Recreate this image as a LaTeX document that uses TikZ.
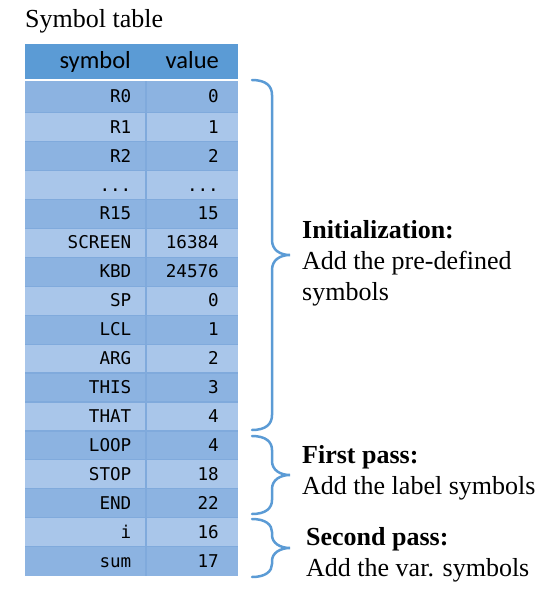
\documentclass[tikz,border=0pt]{standalone}
\usepackage{fontspec}
\setmainfont{Liberation Serif}
\newfontfamily\hdrfont{Carlito}
\newfontfamily\cellfont{DejaVu Sans Mono}
\definecolor{hdrblue}{HTML}{5B9BD5}
\definecolor{banddark}{HTML}{8CB3E1}
\definecolor{bandlight}{HTML}{A9C6EA}
\definecolor{gridblue}{HTML}{80AADC}
\definecolor{braceblue}{HTML}{5B9BD5}
\newcommand\tdots{...}
\newcommand\mybrace[4]{%
  \draw[brace] (252,#1) .. controls (266,#1) and (272,#1+6) .. (272,#1+#4)
    -- (272,#2-#4) .. controls (272,#2-5) and (280,#2) .. (290,#2)
    .. controls (280,#2) and (272,#2+5) .. (272,#2+#4)
    -- (272,#3-#4) .. controls (272,#3-6) and (266,#3) .. (252,#3);}
\tikzset{
  brace/.style={draw=braceblue, line width=2.5pt, line cap=round},
  cell/.style={inner sep=0pt, anchor=base east, font=\cellfont\fontsize{17.6}{20}\selectfont},
  hdr/.style={inner sep=0pt, anchor=base east, font=\hdrfont\fontsize{24.5}{28}\selectfont},
  lbl/.style={inner sep=0pt, anchor=base west, font=\fontsize{26}{31}\selectfont},
  gridline/.style={draw=gridblue, line width=1.2pt}
}
\begin{document}
\begin{tikzpicture}[x=1pt,y=-1pt]
\useasboundingbox (0,0) rectangle (558,598);
% title
\node[lbl] (title) at (25,27) {Symbol table};
% header
\fill[hdrblue] (25,44) rectangle (238,78.5);
\node[hdr] (hsym) at (131,68) {symbol};
\node[hdr] (hval) at (219,68) {value};
% rows
\foreach \s/\v [count=\i from 0] in {R0/0, R1/1, R2/2, \tdots/\tdots, R15/15, SCREEN/16384, KBD/24576, SP/0, LCL/1, ARG/2, THIS/3, THAT/4, LOOP/4, STOP/18, END/22, i/16, sum/17}{
  \pgfmathsetmacro\yt{\i==0 ? 81 : 112.7+(\i-1)*28.93}
  \pgfmathsetmacro\yb{112.7+\i*28.93}
  \pgfmathsetmacro\ym{(\yt+\yb)/2+6}
  \pgfmathtruncatemacro\odd{mod(\i,2)}
  \ifnum\odd=0 \def\bandcol{banddark}\else\def\bandcol{bandlight}\fi
  \fill[\bandcol] (25,\yt) rectangle (238,\yb);
  \node[cell] (s\i) at (131.5,\ym) {\s};
  \node[cell] (v\i) at (219,\ym) {\v};
}
% grid
\foreach \k in {0,...,15}{
  \draw[gridline] (25,112.7+\k*28.93) -- (238,112.7+\k*28.93);
}
\draw[gridline] (146,81) -- (146,604.5-28.93);
% braces
\mybrace{80}{255}{430}{15}
\mybrace{436}{475}{514}{14}
\mybrace{519}{548}{577}{13}
% labels
\node[lbl] (initA) at (302,238) {\textbf{Initialization:}};
\node[lbl] (initB) at (302,269) {Add the pre-defined};
\node[lbl] (initC) at (302,300) {symbols};
\node[lbl] (firstA) at (302,463) {\textbf{First pass:}};
\node[lbl] (firstB) at (302,494) {Add the label symbols};
\node[lbl] (secA) at (306,545) {\textbf{Second pass:}};
\node[lbl] (secB) at (306,576) {Add the var. symbols};
\end{tikzpicture}
\end{document}
